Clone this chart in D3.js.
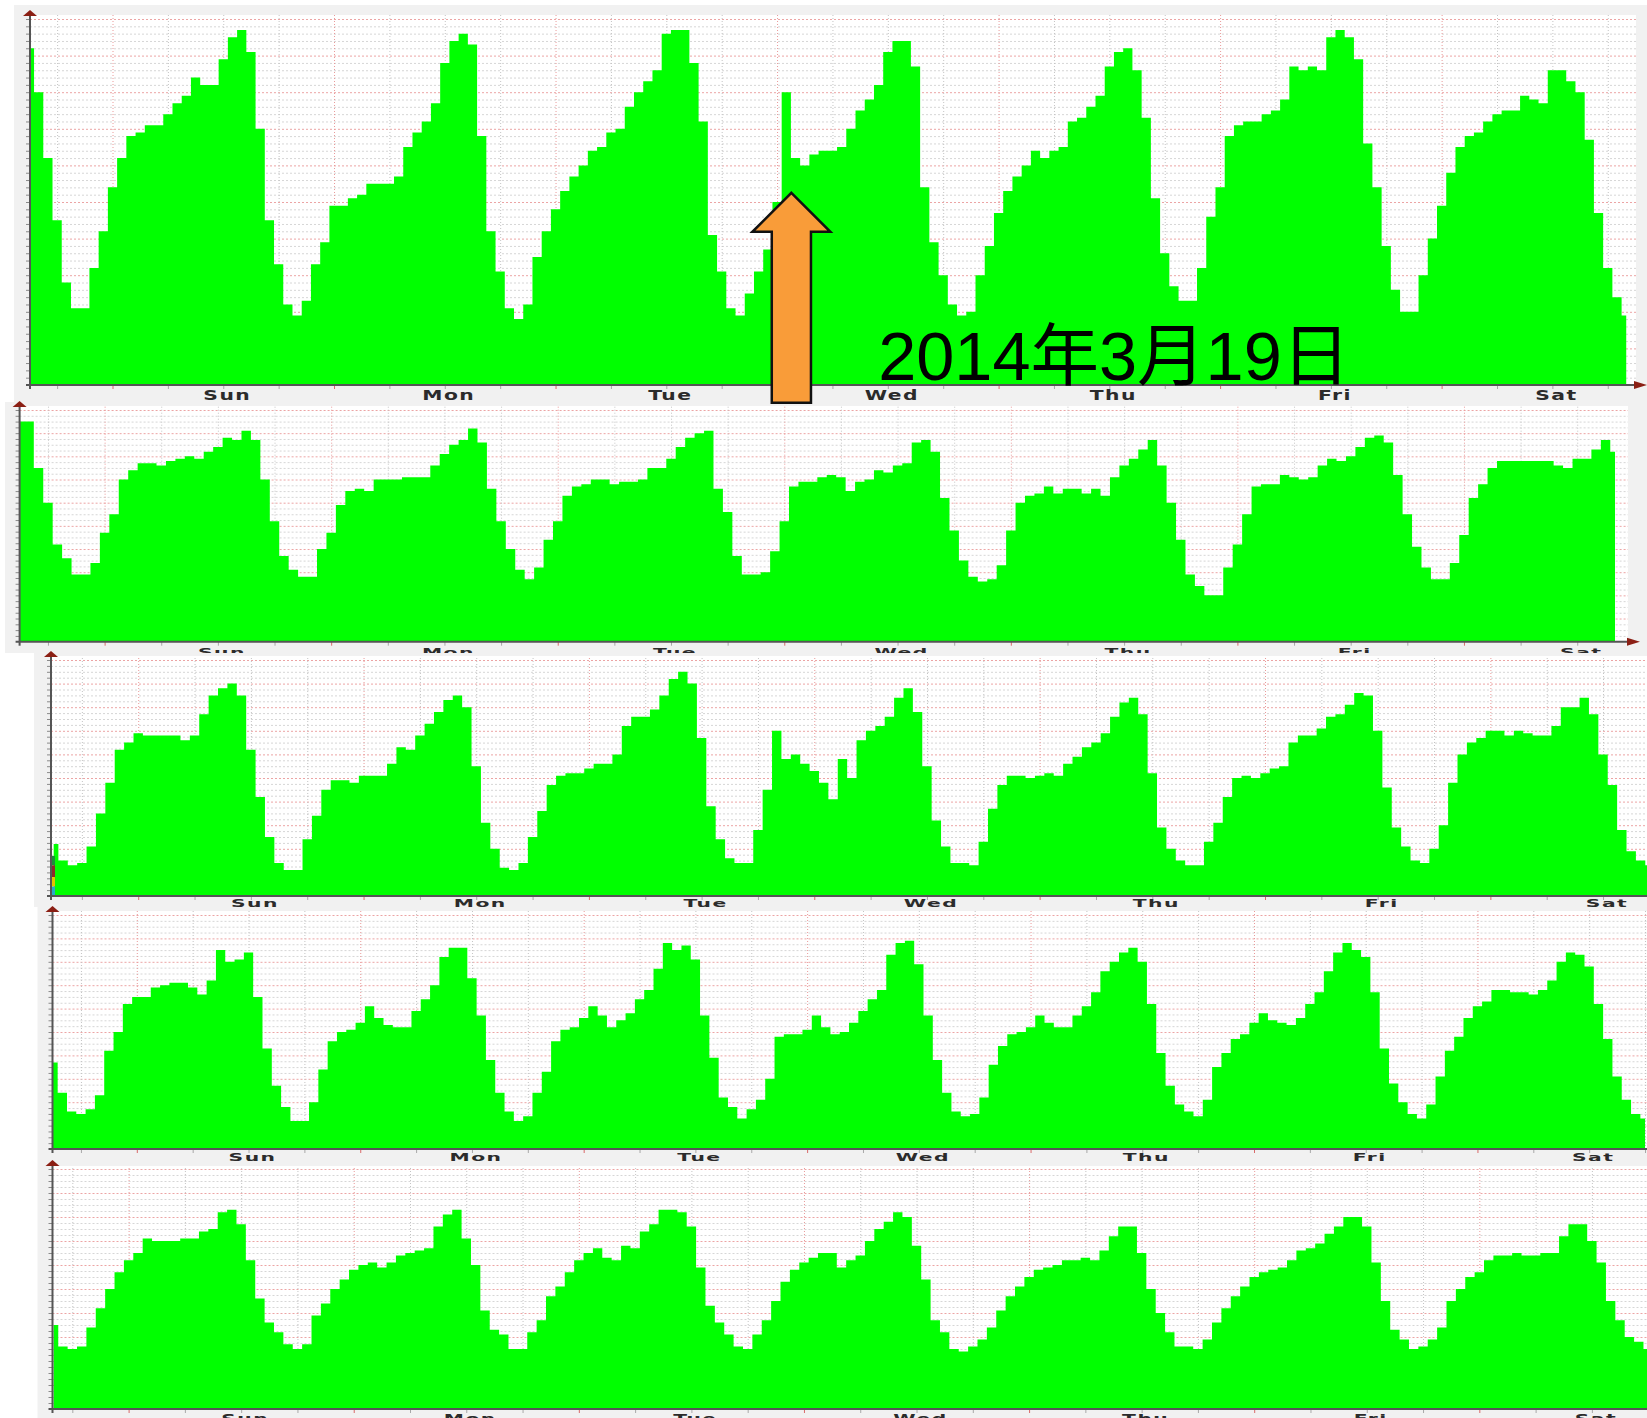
<!DOCTYPE html>
<html>
<head>
<meta charset="utf-8">
<title>weekly traffic</title>
<script src="https://cdn.jsdelivr.net/npm/d3@7"></script>
<style>
  body { margin: 0; background: #ffffff; }
  .chart svg { display: block; }
  .dayLabel {
    font-family: 'DejaVu Sans', sans-serif;
    font-size: 14px;
    font-weight: bold;
    fill: #2b2b2b;
    letter-spacing: 1px;
  }
  .dateNote {
    font-family: 'Liberation Sans', 'Noto Sans CJK JP', sans-serif;
    font-size: 68.5px;
    fill: #000;
  }
</style>
</head>
<body>
<div class="chart"></div>
<script>
// Data: hourly traffic in % of graph max, one week per graph (hour 0 = Sun 00:00)
const dayLabels = ['Sun', 'Mon', 'Tue', 'Wed', 'Thu', 'Fri', 'Sat']
const noteText = '2014年3月19日'
const noteHour = 73.55   // the spike on Wed in graph 1

const week1Start = -9
const week1 = [
  92, 80, 62, 45, 28, 21, 21, 32, 42,
  54, 62, 68, 69, 71, 71, 74, 77, 79, 84, 82, 82, 89, 95, 97, 91, 70, 45, 33, 22, 19, 23, 33, 39,
  49, 49, 51, 52, 55, 55, 55, 57, 65, 69, 72, 77, 88, 94, 96, 93, 68, 42, 31, 21, 18, 22, 35, 42,
  48, 53, 57, 60, 64, 65, 69, 70, 76, 80, 83, 86, 96, 97, 97, 88, 72, 41, 31, 21, 19, 25, 31, 37,
  50, 80, 62, 60, 63, 64, 64, 65, 70, 75, 78, 82, 91, 94, 94, 87, 54, 39, 30, 22, 19, 20, 30, 38,
  47, 53, 57, 60, 64, 62, 64, 65, 72, 73, 76, 79, 87, 91, 92, 86, 73, 51, 36, 27, 23, 23, 32, 46,
  54, 68, 71, 72, 72, 74, 75, 78, 87, 86, 87, 86, 95, 97, 95, 89, 66, 54, 38, 26, 20, 20, 30, 40,
  49, 58, 65, 68, 69, 72, 74, 75, 75, 79, 78, 77, 86, 86, 83, 80, 67, 47, 32, 24, 19
]

const week2Start = -9
const week2 = [
  95, 95, 75, 60, 42, 36, 29, 29, 34,
  47, 55, 70, 74, 77, 77, 76, 78, 79, 80, 79, 82, 84, 88, 87, 91, 87, 70, 52, 37, 31, 28, 28, 40,
  47, 59, 65, 66, 65, 70, 70, 70, 71, 71, 71, 76, 81, 85, 87, 92, 86, 66, 52, 40, 31, 27, 32, 44,
  52, 63, 67, 68, 70, 70, 68, 69, 69, 70, 75, 75, 79, 84, 88, 90, 91, 66, 56, 37, 29, 29, 30, 39,
  52, 67, 69, 69, 71, 72, 71, 65, 69, 70, 74, 73, 76, 77, 86, 87, 82, 62, 48, 35, 28, 26, 27, 33,
  48, 60, 63, 64, 67, 64, 66, 66, 64, 66, 63, 71, 76, 79, 83, 87, 76, 60, 44, 29, 24, 20, 20, 32,
  42, 55, 67, 68, 68, 72, 71, 70, 71, 76, 79, 78, 80, 84, 88, 89, 86, 72, 55, 41, 32, 27, 27, 34,
  46, 62, 68, 75, 78, 78, 78, 78, 78, 78, 76, 75, 79, 79, 83, 87, 82
]

const week3Start = -9
const week3 = [
  22, 15, 13, 14, 21, 35, 48, 62, 65,
  69, 68, 68, 68, 68, 66, 68, 77, 85, 88, 90, 85, 62, 42, 25, 14, 11, 11, 24, 34, 45, 49, 49, 48,
  51, 51, 51, 56, 63, 62, 68, 73, 78, 83, 85, 80, 55, 31, 20, 12, 11, 14, 25, 36, 47, 51, 52, 52,
  54, 56, 56, 60, 72, 76, 76, 79, 85, 92, 95, 90, 67, 38, 24, 16, 14, 14, 28, 45, 70, 58, 60, 56,
  53, 48, 41, 58, 50, 66, 70, 72, 76, 84, 88, 78, 55, 32, 21, 14, 14, 13, 23, 37, 47, 51, 51, 50,
  51, 52, 51, 56, 59, 63, 65, 69, 76, 82, 84, 77, 52, 29, 20, 15, 13, 13, 23, 31, 42, 50, 51, 50,
  52, 54, 55, 65, 68, 68, 71, 76, 77, 81, 86, 85, 70, 46, 29, 21, 15, 14, 20, 30, 48, 60, 65, 67,
  70, 70, 68, 70, 69, 68, 68, 72, 80, 80, 84, 77, 60, 47, 28, 19, 15, 13
]

const week4Start = -9
const week4 = [
  37, 24, 16, 15, 17, 23, 42, 50, 62,
  65, 65, 69, 70, 71, 71, 69, 66, 72, 85, 80, 81, 84, 65, 43, 27, 18, 12, 12, 20, 34, 46, 50, 51,
  54, 61, 56, 53, 52, 52, 59, 64, 70, 82, 86, 86, 73, 57, 38, 24, 16, 12, 14, 24, 33, 46, 51, 52,
  56, 61, 57, 52, 55, 58, 64, 68, 77, 88, 85, 87, 81, 57, 39, 22, 18, 13, 17, 21, 30, 48, 49, 49,
  51, 57, 52, 49, 50, 54, 59, 64, 68, 83, 88, 89, 79, 57, 38, 24, 16, 14, 15, 22, 36, 44, 49, 50,
  52, 57, 54, 52, 52, 57, 61, 67, 76, 80, 84, 86, 80, 62, 41, 27, 19, 16, 14, 21, 35, 41, 47, 49,
  54, 58, 55, 54, 53, 56, 62, 67, 76, 84, 88, 85, 82, 67, 43, 28, 20, 15, 13, 19, 31, 42, 48, 56,
  61, 63, 68, 68, 67, 67, 66, 68, 72, 80, 84, 83, 78, 62, 47, 31, 21, 15, 13
]

const week5Start = -8
const week5 = [
  35, 26, 25, 26, 34, 42, 50, 57,
  62, 65, 71, 70, 70, 70, 71, 71, 74, 75, 82, 83, 77, 62, 46, 36, 32, 27, 25, 27, 39, 44, 50, 54,
  58, 60, 61, 59, 61, 64, 65, 66, 67, 76, 81, 83, 71, 60, 41, 33, 31, 25, 25, 32, 37, 47, 51, 57,
  62, 65, 67, 63, 62, 68, 67, 74, 77, 83, 83, 82, 76, 59, 43, 36, 31, 26, 25, 31, 37, 45, 53, 58,
  61, 63, 65, 65, 59, 62, 64, 70, 75, 78, 82, 80, 68, 54, 37, 32, 25, 24, 26, 29, 34, 41, 47, 51,
  55, 58, 59, 60, 62, 62, 63, 62, 66, 72, 76, 76, 65, 50, 40, 32, 26, 26, 25, 29, 36, 42, 47, 51,
  55, 57, 58, 59, 62, 66, 67, 69, 73, 76, 80, 80, 76, 61, 45, 33, 29, 25, 26, 29, 34, 45, 50, 55,
  57, 62, 64, 64, 65, 64, 64, 65, 65, 72, 77, 77, 70, 61, 45, 37, 30, 28, 25
]

// small stacked legend strip at the start of graph 3 (% of graph max)
const week3StripTops = [17, 13, 8, 4]
const week3StripColors = ['#1b8f3a', '#8b2a2a', '#e6c200', '#2aa8c8']

const series = [
  { start: week1Start, values: week1 },
  { start: week2Start, values: week2 },
  { start: week3Start, values: week3 },
  { start: week4Start, values: week4 },
  { start: week5Start, values: week5 }
]

// Layout of the five stacked graphs (page pixels)
const W = 1647
const H = 1418
const layouts = [
  { axisX: 30,   top: 19,   bottom: 385,   midnight: 112.5, hourW: 9.23, frameX: 14,   frameY: 5,    frameBottom: 402,  plotTop: 15,   plotRight: 1636, arrowX: 1647, minor: 2,   labelDy: 15, labelSy: 1 },
  { axisX: 19.6, top: 410,  bottom: 641.7, midnight: 104.6, hourW: 9.44, frameX: 5,    frameY: 402,  frameBottom: 653,  plotTop: 406,  plotRight: 1628, arrowX: 1640, minor: 2.5, labelDy: 14, labelSy: 0.8 },
  { axisX: 51,   top: 660,  bottom: 896,   midnight: 138.2, hourW: 9.39, frameX: 34,   frameY: 653,  frameBottom: 907,  plotTop: 656,  plotRight: W,    arrowX: null, minor: 2.5, labelDy: 10.5, labelSy: 0.75 },
  { axisX: 52.5, top: 915,  bottom: 1149,  midnight: 136.8, hourW: 9.31, frameX: 37.5, frameY: 907,  frameBottom: 1165, plotTop: 911,  plotRight: W,    arrowX: null, minor: 2.5, labelDy: 12, labelSy: 0.8 },
  { axisX: 52.5, top: 1169, bottom: 1409,  midnight: 128.6, hourW: 9.38, frameX: 37.5, frameY: 1165, frameBottom: H,    plotTop: 1166, plotRight: W,    arrowX: null, minor: 2.5, labelDy: 14, labelSy: 0.85 }
]

const makeScales = p => ({
  xScale: d3.scaleLinear().domain([0, 168]).range([p.midnight, p.midnight + 168 * p.hourW]),
  yScale: d3.scaleLinear().domain([0, 100]).range([p.bottom, p.top])
})

function drawPanel(svg, p, s, idx) {
  const { xScale, yScale } = makeScales(p)
  const g = svg.append('g').classed('panel', true)

  // frame and plot background
  g.append('rect')
    .attr('x', p.frameX).attr('y', p.frameY)
    .attr('width', W - p.frameX).attr('height', p.frameBottom - p.frameY)
    .attr('fill', '#f1f1f1')
  g.append('rect')
    .attr('x', p.axisX).attr('y', p.plotTop)
    .attr('width', p.plotRight - p.axisX).attr('height', p.bottom - p.plotTop)
    .attr('fill', '#ffffff')

  const hourMin = xScale.invert(p.axisX)
  const hourMax = xScale.invert(p.plotRight)
  const gridHours = d3.range(Math.ceil(hourMin / 6) * 6, hourMax, 6)
  const isMidnight = h => ((h % 24) + 24) % 24 === 0
  const isMajor = v => Math.abs(v / 10 - Math.round(v / 10)) < 1e-6
  const gridValues = d3.range(p.minor, 100 + 1e-6, p.minor)

  // horizontal grid
  const yGrid = d3.axisLeft(yScale)
                  .tickValues(gridValues)
                  .tickSize(-(p.plotRight - p.axisX))
                  .tickFormat('')
  g.append('g')
    .attr('transform', `translate(${p.axisX},0)`)
    .call(yGrid)
    .call(a => a.select('.domain').remove())
    .selectAll('.tick line')
      .attr('stroke', v => isMajor(v) ? '#eca4a4' : '#d6d6d6')
      .attr('stroke-dasharray', '2,2')

  // vertical grid
  const xGrid = d3.axisBottom(xScale)
                  .tickValues(gridHours)
                  .tickSize(-(p.bottom - p.plotTop))
                  .tickFormat('')
  g.append('g')
    .attr('transform', `translate(0,${p.bottom})`)
    .call(xGrid)
    .call(a => a.select('.domain').remove())
    .selectAll('.tick line')
      .attr('stroke', h => isMidnight(h) ? '#e99a9a' : '#c4c4c4')
      .attr('stroke-dasharray', '1,2')

  // traffic area
  const clipId = `plotClip${idx}`
  g.append('clipPath').attr('id', clipId)
    .append('rect')
      .attr('x', p.axisX).attr('y', p.plotTop - 10)
      .attr('width', p.plotRight - p.axisX).attr('height', p.bottom - p.plotTop + 10)

  const areaGen = d3.area()
                    .curve(d3.curveStep)
                    .x((d, i) => xScale(s.start + i))
                    .y0(yScale(0))
                    .y1(d => yScale(d))

  g.append('path')
    .datum(s.values)
    .attr('d', areaGen)
    .attr('fill', '#00ff00')
    .attr('clip-path', `url(#${clipId})`)

  if (idx === 2) {
    // legend strip at the left edge of graph 3
    g.selectAll('.strip')
      .data(week3StripTops)
      .join('rect')
        .classed('strip', true)
        .attr('x', p.axisX + 1)
        .attr('width', 3)
        .attr('y', d => yScale(d))
        .attr('height', (d, i) => yScale(week3StripTops[i + 1] || 0) - yScale(d))
        .attr('fill', (d, i) => week3StripColors[i])
  }

  // y ticks
  const yAxis = d3.axisLeft(yScale).tickValues(gridValues).tickSize(4).tickFormat('')
  g.append('g')
    .attr('transform', `translate(${p.axisX},0)`)
    .call(yAxis)
    .call(a => a.select('.domain').remove())
    .selectAll('.tick line').attr('stroke', '#8a8a8a')

  // x ticks
  const xAxis = d3.axisBottom(xScale).tickValues(gridHours).tickSize(4).tickFormat('')
  g.append('g')
    .attr('transform', `translate(0,${p.bottom})`)
    .call(xAxis)
    .call(a => a.select('.domain').remove())
    .selectAll('.tick line').attr('stroke', h => isMidnight(h) ? '#d96a6a' : '#a8a8a8')

  // axis lines and arrows
  g.append('line')
    .attr('x1', p.axisX).attr('x2', p.axisX)
    .attr('y1', p.bottom + 4).attr('y2', p.top - 5)
    .attr('stroke', '#555').attr('stroke-width', 2)
  g.append('line')
    .attr('x1', p.axisX - 4).attr('x2', p.arrowX ? p.arrowX - 8 : W)
    .attr('y1', p.bottom).attr('y2', p.bottom)
    .attr('stroke', '#555').attr('stroke-width', 2)
  g.append('path')
    .attr('d', `M${p.axisX - 7},${p.top - 3} L${p.axisX},${p.top - 9} L${p.axisX + 7},${p.top - 3} Z`)
    .attr('fill', '#8b1f14')
  if (p.arrowX) {
    g.append('path')
      .attr('d', `M${p.arrowX - 13},${p.bottom - 4} L${p.arrowX},${p.bottom} L${p.arrowX - 13},${p.bottom + 4} Z`)
      .attr('fill', '#8b1f14')
  }

  // day labels
  g.selectAll('.dayLabel')
    .data(dayLabels)
    .join('text')
      .classed('dayLabel', true)
      .attr('text-anchor', 'middle')
      .attr('transform', (d, i) => `translate(${xScale(i * 24 + 12) + 4},${p.bottom + p.labelDy}) scale(1.45,${p.labelSy})`)
      .text(d => d)
}

function drawNote(svg) {
  const { xScale, yScale } = makeScales(layouts[0])
  const cx = xScale(noteHour)
  const tip = yScale(52.5)
  const headW = 39, headH = 39, shaftW = 19.6, base = 402.7

  const pts = [
    [cx, tip], [cx + headW, tip + headH], [cx + shaftW, tip + headH], [cx + shaftW, base],
    [cx - shaftW, base], [cx - shaftW, tip + headH], [cx - headW, tip + headH]
  ]
  svg.append('polygon')
    .attr('points', pts.map(d => d.join(',')).join(' '))
    .attr('fill', '#f99c39')
    .attr('stroke', '#111')
    .attr('stroke-width', 2.5)

  svg.append('text')
    .classed('dateNote', true)
    .attr('x', xScale(82.95))
    .attr('y', 380)
    .text(noteText)
}

function draw() {
  const _cont = d3.select('.chart')
                  .append('svg')
                  .attr('width', W)
                  .attr('height', H)

  layouts.forEach((p, i) => drawPanel(_cont, p, series[i], i))
  drawNote(_cont)
}

draw()
</script>
</body>
</html>
